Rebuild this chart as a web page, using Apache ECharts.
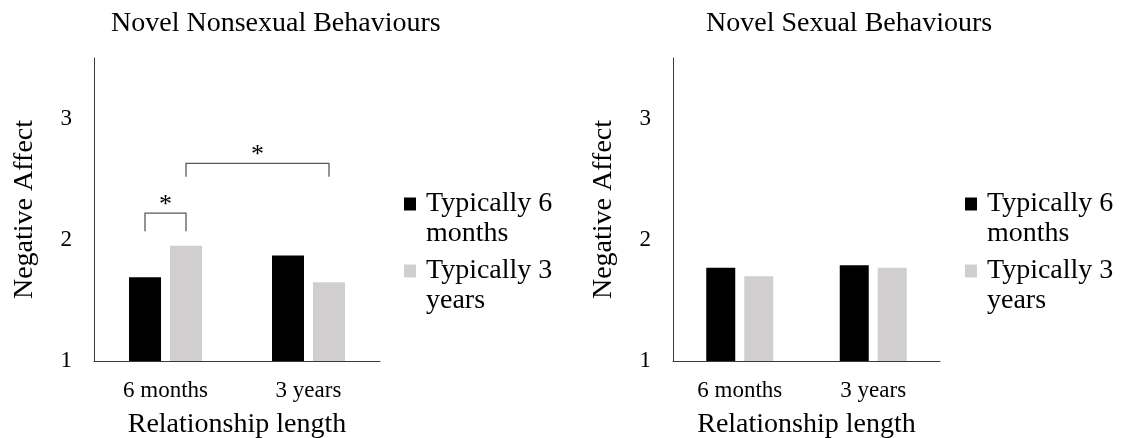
<!DOCTYPE html>
<html>
<head>
<meta charset="utf-8">
<script src="https://cdn.jsdelivr.net/npm/echarts@6/dist/echarts.min.js"></script>
<style>
  html, body { margin: 0; padding: 0; background: #ffffff; }
  #chart { width: 1124px; height: 438px; }
</style>
</head>
<body>
<div id="chart"></div>
<script>
// Relationship-length conditions on the x axis
const categories = ['6 months', '3 years'];
// Series (legend) names
const seriesNames = ['Typically 6 months', 'Typically 3 years'];
// Mean negative affect, novel nonsexual behaviours
const nonsexualTyp6m = [1.69, 1.87];
const nonsexualTyp3y = [1.95, 1.65];
// Mean negative affect, novel sexual behaviours
const sexualTyp6m = [1.77, 1.79];
const sexualTyp3y = [1.70, 1.77];
// Value-axis ticks and range
const yTicks = [1, 2, 3];
const yMin = 1;
const yMax = 3.5;
// Significant comparisons: [category A, bar A, category B, bar B, leg bottom, bracket top]
const nonsexualBrackets = [
  [0, 0, 0, 1, 2.07, 2.22],
  [0, 1, 1, 1, 2.52, 2.63]
];

const FONT = "'Liberation Serif', 'Times New Roman', serif";
const BLACK = '#000000';
const GREY = '#d0cece';
const AXIS_COLOR = '#3a3a3a';

const panels = [
  { title: 'Novel Nonsexual Behaviours', titleLeft: 111, left: 94, width: 286, barWidth: 32, legendLeft: 404 },
  { title: 'Novel Sexual Behaviours', titleLeft: 706, left: 673, width: 267, barWidth: 29, legendLeft: 965 }
];
const BAR_SPACE = 9;
const LEGEND_LINE = 30;

function legendFor(p) {
  return {
    orient: 'vertical',
    left: p.legendLeft,
    top: 159,
    padding: 0,
    itemWidth: 12,
    itemHeight: 13,
    itemGap: 67 - 3 * LEGEND_LINE,
    icon: 'rect',
    selectedMode: false,
    data: seriesNames,
    // two-line entry; the leading empty line keeps the key beside the first line
    formatter: function (name) {
      const words = name.split(' ');
      return '\n' + words.slice(0, 2).join(' ') + '\n' + words.slice(2).join(' ');
    },
    textStyle: {
      fontFamily: FONT,
      fontSize: 28,
      color: '#000',
      lineHeight: LEGEND_LINE,
      padding: [0, 0, 0, 5]
    }
  };
}

function xAxisFor(gridIndex) {
  return {
    type: 'category',
    gridIndex: gridIndex,
    data: categories,
    axisLine: { lineStyle: { color: AXIS_COLOR, width: 1 } },
    axisTick: { show: false },
    axisLabel: { fontFamily: FONT, fontSize: 23, color: '#000', margin: 18 },
    name: 'Relationship length',
    nameLocation: 'middle',
    nameGap: 50,
    nameTextStyle: { fontFamily: FONT, fontSize: 28, color: '#000' }
  };
}

function yAxisFor(gridIndex) {
  return {
    type: 'value',
    gridIndex: gridIndex,
    min: yMin,
    max: yMax,
    interval: 1,
    splitLine: { show: false },
    axisTick: { show: false },
    axisLine: { show: true, lineStyle: { color: AXIS_COLOR, width: 1 } },
    axisLabel: {
      fontFamily: FONT, fontSize: 23, color: '#000', margin: 22,
      showMaxLabel: false,
      formatter: function (v) { return yTicks.indexOf(v) >= 0 ? String(v) : ''; }
    },
    name: 'Negative Affect',
    nameLocation: 'middle',
    nameGap: 55,
    nameTextStyle: { fontFamily: FONT, fontSize: 28, color: '#000' }
  };
}

function barSeries(name, data, color, gridIndex, barWidth) {
  return {
    type: 'bar',
    name: name,
    xAxisIndex: gridIndex,
    yAxisIndex: gridIndex,
    data: data,
    barWidth: barWidth,
    barGap: (BAR_SPACE / barWidth * 100).toFixed(1) + '%',
    itemStyle: { color: color },
    emphasis: { disabled: true },
    silent: true
  };
}

// Brackets with asterisks over significantly different bars
const bracketSeries = {
  type: 'custom',
  xAxisIndex: 0,
  yAxisIndex: 0,
  silent: true,
  z: 5,
  data: nonsexualBrackets,
  encode: { x: 0, y: 5 },
  renderItem: function (params, api) {
    const half = (panels[0].barWidth + BAR_SPACE) / 2;
    const barX = function (cat, bar) {
      return api.coord([cat, yMin])[0] + (bar === 0 ? -half : half);
    };
    const x1 = barX(api.value(0), api.value(1));
    const x2 = barX(api.value(2), api.value(3));
    const yLeg = api.coord([0, api.value(4)])[1];
    const yTop = api.coord([0, api.value(5)])[1];
    return {
      type: 'group',
      children: [
        {
          type: 'polyline',
          shape: { points: [[x1, yLeg], [x1, yTop], [x2, yTop], [x2, yLeg]] },
          style: { stroke: '#595959', lineWidth: 1.3, fill: null }
        },
        {
          type: 'text',
          style: {
            text: '*',
            x: (x1 + x2) / 2,
            y: yTop + 5,
            align: 'center',
            verticalAlign: 'bottom',
            fontFamily: FONT,
            fontSize: 26,
            fill: '#000'
          }
        }
      ]
    };
  }
};

const option = {
  backgroundColor: '#ffffff',
  animation: false,
  title: panels.map(function (p) {
    return {
      text: p.title,
      left: p.titleLeft,
      top: 10,
      padding: 0,
      textStyle: { fontFamily: FONT, fontSize: 28, fontWeight: 'normal', color: '#000' }
    };
  }),
  legend: panels.map(legendFor),
  grid: panels.map(function (p) {
    return { left: p.left, width: p.width, top: 58, height: 303, containLabel: false, outerBoundsMode: 'none' };
  }),
  xAxis: [xAxisFor(0), xAxisFor(1)],
  yAxis: [yAxisFor(0), yAxisFor(1)],
  series: [
    barSeries(seriesNames[0], nonsexualTyp6m, BLACK, 0, panels[0].barWidth),
    barSeries(seriesNames[1], nonsexualTyp3y, GREY, 0, panels[0].barWidth),
    barSeries(seriesNames[0], sexualTyp6m, BLACK, 1, panels[1].barWidth),
    barSeries(seriesNames[1], sexualTyp3y, GREY, 1, panels[1].barWidth),
    bracketSeries
  ]
};

const chart = echarts.init(document.getElementById('chart'), null, { renderer: 'canvas' });
chart.setOption(option);
</script>
</body>
</html>
